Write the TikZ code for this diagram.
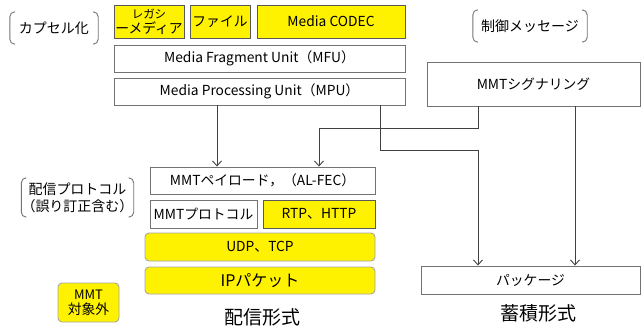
\documentclass[tikz,border=0pt]{standalone}
\usepackage{fontspec}
\setmainfont{Noto Sans CJK JP}
\usetikzlibrary{arrows.meta,shapes}
\tikzstyle{box}=[draw=black!55, fill=white, line width=0.9pt, inner sep=0pt, align=center, node font=\fontsize{13.8}{15}\selectfont]
\tikzstyle{yellow box}=[box, fill=yellow, draw=black!65]
\tikzstyle{round box}=[box, fill=yellow, draw=black!35, rounded corners=4pt]
\tikzstyle{flow}=[draw=black!75, line width=0.9pt, -{Straight Barb[length=5pt,width=9pt]}]
\tikzstyle{bracket}=[draw=black!55, line width=0.9pt, rounded corners=5pt]
\tikzstyle{note}=[draw=none, inner sep=0pt, align=center, node font=\fontsize{14}{17}\selectfont]
\tikzstyle{caption}=[draw=none, inner sep=0pt, node font=\fontsize{19}{21}\selectfont]

\begin{document}
\begin{tikzpicture}[x=1pt, y=-1pt]
\useasboundingbox (0,0) rectangle (641,329);
% First we draw the white boxes

\foreach \pos/\name/\bw/\bh/\txt in {
	{(259.5,58.5)/mfu/291/27/Media Fragment Unit（MFU）},
	{(259.5,91.5)/mpu/291/27/Media Processing Unit（MPU）},
	{(533.5,84)/signal/213/44/MMTシグナリング},
	{(262.5,180.5)/payload/225/27/MMTペイロード，（AL-FEC）},
	{(203.5,214)/mmtproto/107/28/MMTプロトコル},
	{(530.5,280)/package/219/28/パッケージ}}
\node[box, minimum width=\bw pt, minimum height=\bh pt] (\name) at \pos {\txt};

\foreach \pos/\name/\bw/\bh/\txt in {
	{(149,21.5)/legacy/70/33/{\fontsize{11.5}{14}\selectfont レガシ\\ーメディア}},
	{(220,21.5)/file/60/33/ファイル},
	{(331,21.5)/codec/148/33/Media CODEC},
	{(319,214)/rtp/112/28/RTP、HTTP}}
\node[yellow box, minimum width=\bw pt, minimum height=\bh pt] (\name) at \pos {\txt};

\foreach \pos/\name/\bw/\bh/\txt in {
	{(260,247)/udp/230/28/UDP、TCP},
	{(260,280.5)/ip/230/27/{\fontsize{16}{18}\selectfont IPパケット}},
	{(88.5,302.5)/outside/61/39/{\fontsize{13}{15}\selectfont MMT\\対象外}}}
\node[round box, minimum width=\bw pt, minimum height=\bh pt] (\name) at \pos {\txt};

% Bracketed notes
\node[note, minimum width=88pt, minimum height=32pt] (encap) at (54,28) {カプセル化};
\node[note, minimum width=114pt, minimum height=32pt] (ctrl) at (530,26) {制御メッセージ};
\node[note, minimum width=111pt, minimum height=39pt] (proto) at (77.5,197.5) {配信プロトコル\\（誤り訂正含む）};
\foreach \n in {encap, ctrl, proto} {
	\path[bracket] ([xshift=5pt]\n.north west) -| (\n.south west) -- ++(5pt,0);
	\path[bracket] ([xshift=-5pt]\n.north east) -| (\n.south east) -- ++(-5pt,0);
}

\node[caption] (deliver) at (262,317) {配信形式};
\node[caption] (store) at (538,313) {蓄積形式};

% Connect the boxes
\path[flow] (217,0 |- mpu.south) -- (217,0 |- payload.north);
\path[flow] (380,0 |- mpu.south) |- (478,150) -- (478,0 |- package.north);
\path[flow] (478,0 |- signal.south) -- (478,128) -| (319,0 |- payload.north);
\path[flow] (575,0 |- signal.south) -- (575,0 |- package.north);

\end{tikzpicture}
\end{document}
